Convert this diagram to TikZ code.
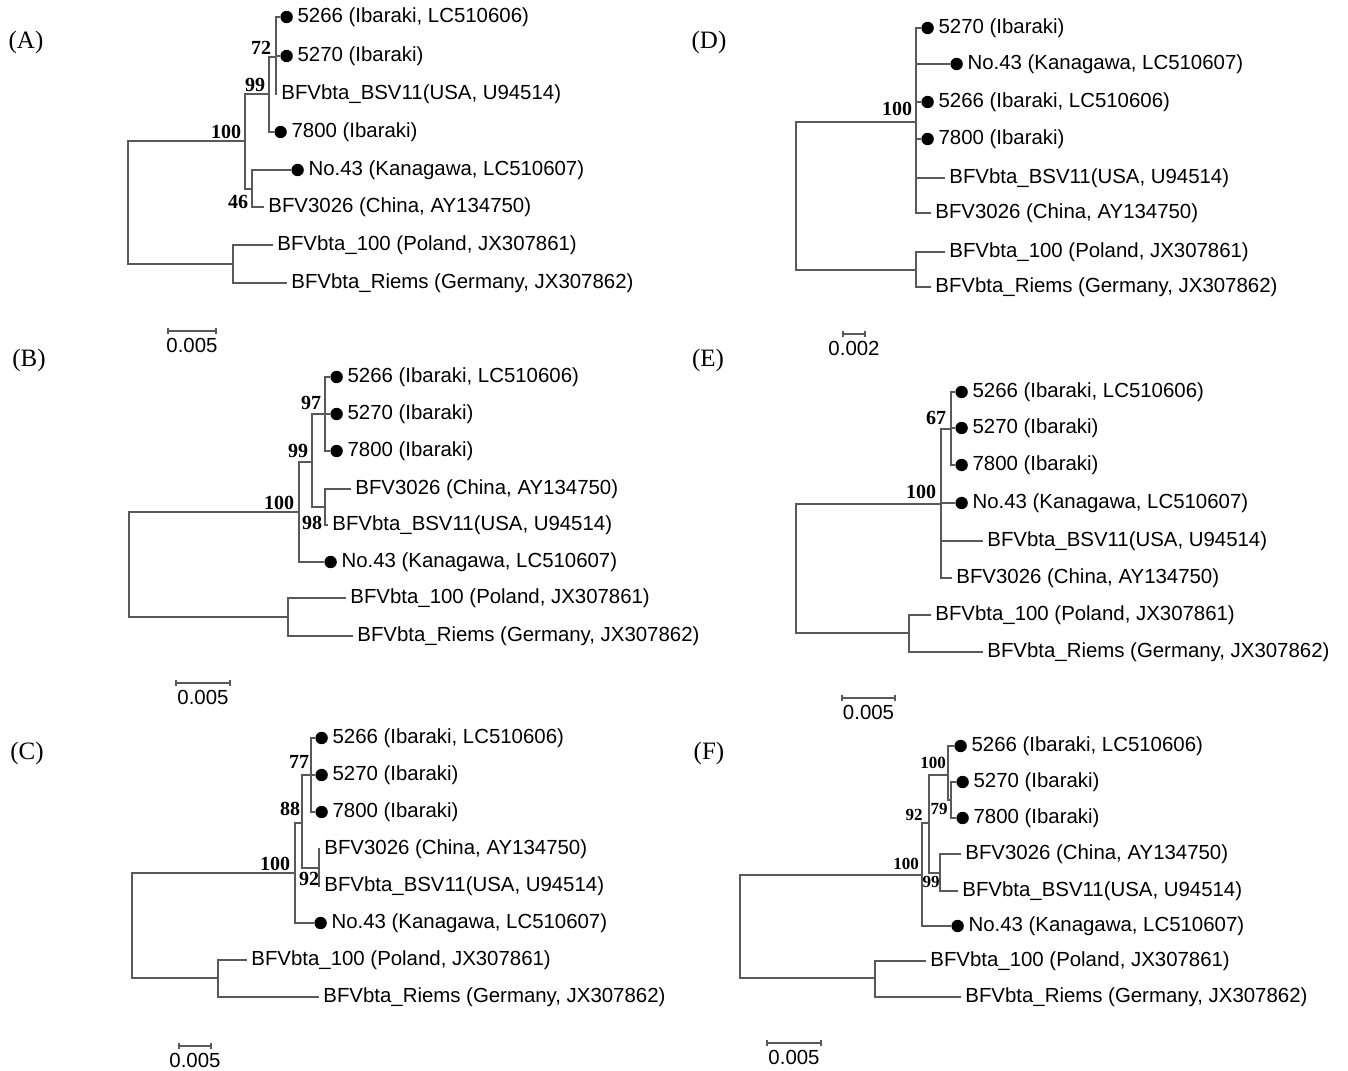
\documentclass[tikz,border=0pt]{standalone}
\usepackage{fontspec}
\usepackage{tikz}
\usetikzlibrary{positioning, calc}

\newfontfamily\taxfont{Liberation Sans}
\newfontfamily\numfont{Liberation Serif}

% leaf without / with a filled dot: parent, name, x, y, text
\newcommand{\tleaf}[5]{%
  \coordinate (#2) at (#3,#4);
  \draw[branch] (#1) |- (#2);
  \node[taxon, right=0pt of #2] (#2t) {#5};}
\newcommand{\dleaf}[5]{%
  \coordinate (#2) at (#3,#4);
  \draw[branch] (#1) |- (#2);
  \node[dot, right=0pt of #2] (#2d) {};
  \node[taxon, right=0pt of #2d] (#2t) {#5};}
% scale bar: prefix, x0, x1, y, text
\newcommand{\sbar}[5]{%
  \coordinate (#1s0) at (#2,#4);
  \coordinate (#1s1) at (#3,#4);
  \draw[branch] (#1s0) -- (#1s1);
  \draw[branch] ([yshift=1.5pt]#1s0) -- ([yshift=-1.5pt]#1s0);
  \draw[branch] ([yshift=1.5pt]#1s1) -- ([yshift=-1.5pt]#1s1);
  \node[taxon] (#1sl) at ($(#1s0)!0.5!(#1s1)+(0,14)$) {#5};}

\begin{document}
\begin{tikzpicture}[
    x=0.5pt, y=-0.5pt,
    branch/.style={draw=black!65, line width=0.6pt},
    dot/.style={circle, fill=black, inner sep=0pt, minimum size=6.2pt},
    taxon/.style={font=\taxfont\fontsize{10.2}{12}\selectfont, inner sep=2pt},
    boot/.style={font=\numfont\bfseries\fontsize{10}{11}\selectfont, inner sep=0pt},
    smallboot/.style={font=\numfont\bfseries\fontsize{8.5}{9}\selectfont, inner sep=0pt},
    panel/.style={font=\numfont\fontsize{12.5}{14}\selectfont}
]
\useasboundingbox (0,0) rectangle (1348,1070);

% (A)
\node[panel] (pA) at (26,42) {(A)};
\coordinate (Aroot) at (128,203);
\coordinate (A100) at (245,141);
\coordinate (A99) at (269,94);
\coordinate (A72) at (276,57);
\coordinate (A46) at (252,189);
\coordinate (Aout) at (233,264);
\draw[branch] (Aroot) |- (A100);
\draw[branch] (Aroot) |- (Aout);
\draw[branch] (A100) |- (A99);
\draw[branch] (A100) |- (A46);
\draw[branch] (A99) |- (A72);
\dleaf{A72}{A5266}{280}{17}{5266 (Ibaraki, LC510606)}
\dleaf{A72}{A5270}{280}{56}{5270 (Ibaraki)}
\tleaf{A72}{Ausa}{277}{94}{BFVbta\_BSV11(USA, U94514)}
\dleaf{A99}{A7800}{274}{132}{7800 (Ibaraki)}
\dleaf{A46}{Ano43}{291}{170}{No.43 (Kanagawa, LC510607)}
\tleaf{A46}{Achn}{264}{207}{BFV3026 (China, AY134750)}
\tleaf{Aout}{Apol}{273}{245}{BFVbta\_100 (Poland, JX307861)}
\tleaf{Aout}{Ager}{287}{283}{BFVbta\_Riems (Germany, JX307862)}
\node[boot] (A72b) at (261,48) {72};
\node[boot] (A99b) at (255,85) {99};
\node[boot] (A100b) at (226,132) {100};
\node[boot] (A46b) at (238,202) {46};
\sbar{A}{168}{216}{331}{0.005}

% (B)
\node[panel] (pB) at (29,360) {(B)};
\coordinate (Broot) at (129,565);
\coordinate (B100) at (299,512);
\coordinate (B99) at (312,462);
\coordinate (B97) at (325,414);
\coordinate (B98) at (325,507);
\coordinate (Bout) at (288,617);
\draw[branch] (Broot) |- (B100);
\draw[branch] (Broot) |- (Bout);
\draw[branch] (B100) |- (B99);
\draw[branch] (B99) |- (B97);
\draw[branch] (B99) |- (B98);
\dleaf{B97}{B5266}{330}{377}{5266 (Ibaraki, LC510606)}
\dleaf{B97}{B5270}{330}{414}{5270 (Ibaraki)}
\dleaf{B97}{B7800}{330}{451}{7800 (Ibaraki)}
\tleaf{B98}{Bchn}{351}{489}{BFV3026 (China, AY134750)}
\tleaf{B98}{Busa}{328}{525}{BFVbta\_BSV11(USA, U94514)}
\dleaf{B100}{Bno43}{324}{562}{No.43 (Kanagawa, LC510607)}
\tleaf{Bout}{Bpol}{346}{598}{BFVbta\_100 (Poland, JX307861)}
\tleaf{Bout}{Bger}{353}{636}{BFVbta\_Riems (Germany, JX307862)}
\node[boot] (B97b) at (311,403) {97};
\node[boot] (B99b) at (298,451) {99};
\node[boot] (B100b) at (279,503) {100};
\node[boot] (B98b) at (312,523) {98};
\sbar{B}{176}{230}{683}{0.005}

% (C)
\node[panel] (pC) at (27,753) {(C)};
\coordinate (Croot) at (132,925);
\coordinate (C100) at (295,873);
\coordinate (C88) at (302,823);
\coordinate (C77) at (311,775);
\coordinate (C92) at (319,868);
\coordinate (Cout) at (218,978);
\draw[branch] (Croot) |- (C100);
\draw[branch] (Croot) |- (Cout);
\draw[branch] (C100) |- (C88);
\draw[branch] (C88) |- (C77);
\draw[branch] (C88) |- (C92);
\dleaf{C77}{C5266}{315}{738}{5266 (Ibaraki, LC510606)}
\dleaf{C77}{C5270}{315}{775}{5270 (Ibaraki)}
\dleaf{C77}{C7800}{315}{812}{7800 (Ibaraki)}
\tleaf{C92}{Cchn}{320}{849}{BFV3026 (China, AY134750)}
\tleaf{C92}{Cusa}{320}{886}{BFVbta\_BSV11(USA, U94514)}
\dleaf{C100}{Cno43}{314}{923}{No.43 (Kanagawa, LC510607)}
\tleaf{Cout}{Cpol}{247}{960}{BFVbta\_100 (Poland, JX307861)}
\tleaf{Cout}{Cger}{319}{997}{BFVbta\_Riems (Germany, JX307862)}
\node[boot] (C77b) at (299,762) {77};
\node[boot] (C88b) at (290,809) {88};
\node[boot] (C100b) at (275,864) {100};
\node[boot] (C92b) at (309,879) {92};
\sbar{C}{179}{211}{1046}{0.005}

% (D)
\node[panel] (pD) at (709,42) {(D)};
\coordinate (Droot) at (796,196);
\coordinate (D100) at (916,122);
\coordinate (Dout) at (916,270);
\draw[branch] (Droot) |- (D100);
\draw[branch] (Droot) |- (Dout);
\dleaf{D100}{D5270}{921}{28}{5270 (Ibaraki)}
\dleaf{D100}{Dno43}{950}{64}{No.43 (Kanagawa, LC510607)}
\dleaf{D100}{D5266}{921}{102}{5266 (Ibaraki, LC510606)}
\dleaf{D100}{D7800}{921}{139}{7800 (Ibaraki)}
\tleaf{D100}{Dusa}{945}{178}{BFVbta\_BSV11(USA, U94514)}
\tleaf{D100}{Dchn}{931}{213}{BFV3026 (China, AY134750)}
\tleaf{Dout}{Dpol}{945}{252}{BFVbta\_100 (Poland, JX307861)}
\tleaf{Dout}{Dger}{931}{287}{BFVbta\_Riems (Germany, JX307862)}
\node[boot] (D100b) at (897,109) {100};
\sbar{D}{843}{865}{334}{0.002}

% (E)
\node[panel] (pE) at (708,360) {(E)};
\coordinate (Eroot) at (796,568);
\coordinate (E100) at (941,504);
\coordinate (E67) at (951,429);
\coordinate (Eout) at (909,633);
\draw[branch] (Eroot) |- (E100);
\draw[branch] (Eroot) |- (Eout);
\draw[branch] (E100) |- (E67);
\dleaf{E67}{E5266}{955}{392}{5266 (Ibaraki, LC510606)}
\dleaf{E67}{E5270}{955}{428}{5270 (Ibaraki)}
\dleaf{E67}{E7800}{955}{465}{7800 (Ibaraki)}
\dleaf{E100}{Eno43}{955}{503}{No.43 (Kanagawa, LC510607)}
\tleaf{E100}{Eusa}{983}{541}{BFVbta\_BSV11(USA, U94514)}
\tleaf{E100}{Echn}{952}{578}{BFV3026 (China, AY134750)}
\tleaf{Eout}{Epol}{931}{615}{BFVbta\_100 (Poland, JX307861)}
\tleaf{Eout}{Eger}{983}{652}{BFVbta\_Riems (Germany, JX307862)}
\node[boot] (E67b) at (936,418) {67};
\node[boot] (E100b) at (921,492) {100};
\sbar{E}{842}{895}{698}{0.005}

% (F)
\node[panel] (pF) at (709,753) {(F)};
\coordinate (Froot) at (740,926);
\coordinate (F100) at (922,875);
\coordinate (F92) at (929,823);
\coordinate (Fb100) at (948,775);
\coordinate (F79) at (951,800);
\coordinate (F99) at (940,873);
\coordinate (Fout) at (875,978);
\draw[branch] (Froot) |- (F100);
\draw[branch] (Froot) |- (Fout);
\draw[branch] (F100) |- (F92);
\draw[branch] (F92) |- (Fb100);
\draw[branch] (F92) |- (F99);
\draw[branch] (Fb100) |- (F79);
\dleaf{Fb100}{F5266}{954}{746}{5266 (Ibaraki, LC510606)}
\dleaf{F79}{F5270}{956}{782}{5270 (Ibaraki)}
\dleaf{F79}{F7800}{956}{818}{7800 (Ibaraki)}
\tleaf{F99}{Fchn}{961}{854}{BFV3026 (China, AY134750)}
\tleaf{F99}{Fusa}{958}{891}{BFVbta\_BSV11(USA, U94514)}
\dleaf{F100}{Fno43}{951}{926}{No.43 (Kanagawa, LC510607)}
\tleaf{Fout}{Fpol}{926}{961}{BFVbta\_100 (Poland, JX307861)}
\tleaf{Fout}{Fger}{961}{997}{BFVbta\_Riems (Germany, JX307862)}
\node[smallboot] (Fb100b) at (933,763) {100};
\node[smallboot] (F79b) at (939,809) {79};
\node[smallboot] (F92b) at (914,815) {92};
\node[smallboot] (F100b) at (906,864) {100};
\node[smallboot] (F99b) at (931,882) {99};
\sbar{F}{767}{821}{1043}{0.005}
\end{tikzpicture}
\end{document}
